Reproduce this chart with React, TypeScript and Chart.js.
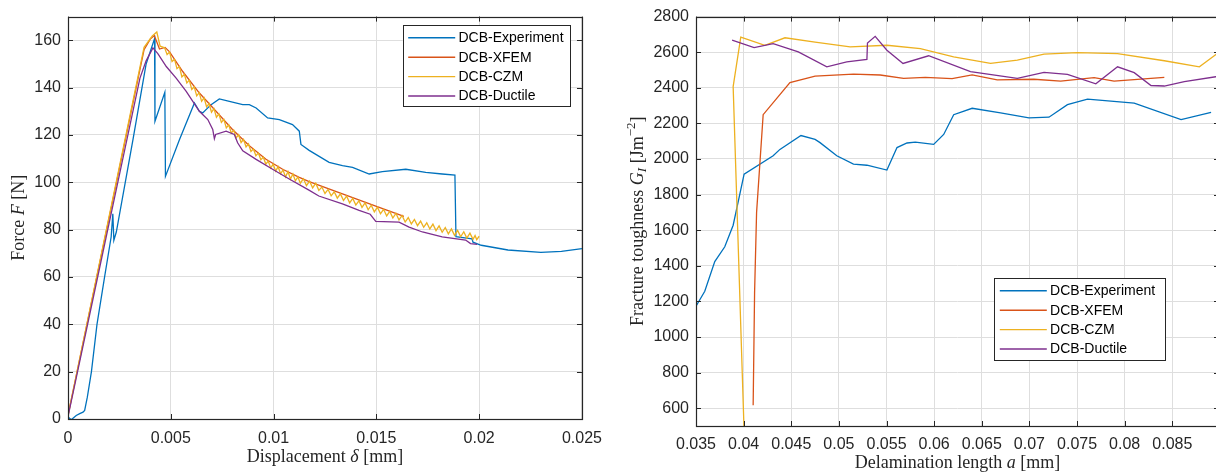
import React, { useEffect, useRef } from 'react';
import { Chart, registerables } from 'chart.js';

Chart.register(...registerables);

// ---------- series meta ----------
const SERIES_NAMES = ['DCB-Experiment', 'DCB-XFEM', 'DCB-CZM', 'DCB-Ductile'];
const SERIES_COLORS = ['#0072BD', '#D95319', '#EDB120', '#7E2F8E'];

// ---------- left chart: displacement [mm] vs force [N] ----------
const LEFT_X_TICKS = [0, 0.005, 0.01, 0.015, 0.02, 0.025];
const LEFT_Y_TICKS = [0, 20, 40, 60, 80, 100, 120, 140, 160];

const expDisp = [0, 0.00016, 0.0004, 0.00057, 0.00073, 0.00081, 0.00094, 0.00114, 0.00141, 0.00178, 0.0021, 0.00218, 0.00223, 0.00235, 0.00316, 0.0038, 0.00421, 0.00423, 0.00471, 0.00474, 0.00542, 0.00615, 0.00639, 0.00655, 0.00696, 0.00736, 0.00785, 0.0085, 0.00882, 0.00915, 0.00971, 0.01028, 0.01092, 0.01125, 0.01133, 0.01173, 0.0127, 0.01335, 0.01384, 0.01465, 0.01529, 0.01643, 0.0174, 0.0182, 0.01882, 0.01887, 0.0193, 0.01965, 0.0197, 0.0201, 0.0214, 0.023, 0.024, 0.025];
const expForce = [0.8, -0.3, 1.5, 2.3, 2.9, 3.6, 9.2, 20, 40, 60, 77, 86.7, 75.5, 79, 118, 150, 160.7, 125.8, 138, 102.5, 118, 133.5, 130, 129.3, 132.8, 135.2, 134.2, 132.8, 132.8, 131.4, 127.2, 126.5, 124.4, 121.6, 116, 113.5, 108.4, 107, 106.3, 103.5, 104.5, 105.5, 104.2, 103.5, 103, 77, 76.5, 76.1, 74.7, 73.4, 71.4, 70.4, 70.8, 72];

const xfemDisp = [0, 0.0037, 0.004, 0.0042, 0.00445, 0.00472, 0.00494, 0.00558, 0.00639, 0.0072, 0.008, 0.00882, 0.00963, 0.01044, 0.01125, 0.01173, 0.01335, 0.01497, 0.01634];
const xfemForce = [1.5, 156, 160.5, 162, 156.3, 157, 155.1, 146.8, 137.7, 130, 122.3, 115.4, 109.7, 105.5, 102.1, 100.3, 95.1, 89.9, 85.6];

const czmDisp = [0, 0.0037, 0.0041, 0.00432, 0.00448,
  0.0047, 0.00482, 0.00494, 0.00506, 0.00518, 0.0053, 0.00542, 0.00554, 0.00566, 0.00578,
  0.0059, 0.00602, 0.00614, 0.00626, 0.00638, 0.0065, 0.00662, 0.00674, 0.00686, 0.00698,
  0.0071, 0.00722, 0.00734, 0.00746, 0.00758, 0.0077, 0.00782, 0.00794, 0.00806, 0.00818,
  0.0083, 0.00842, 0.00854, 0.00866, 0.00878, 0.0089, 0.00902, 0.00914, 0.00926, 0.00938,
  0.0095, 0.00962, 0.00974, 0.00986, 0.00998, 0.0101, 0.01022, 0.01034, 0.01046, 0.01058,
  0.0107, 0.01082, 0.01094, 0.01106, 0.01118, 0.0113,
  0.01145, 0.0116, 0.01175, 0.0119, 0.01205, 0.0122, 0.01235, 0.0125, 0.01265, 0.0128,
  0.01295, 0.0131, 0.01325, 0.0134, 0.01355, 0.0137, 0.01385, 0.014, 0.01415, 0.0143,
  0.01445, 0.0146, 0.01475, 0.0149, 0.01505, 0.0152, 0.01535, 0.0155, 0.01565, 0.0158,
  0.01595, 0.0161, 0.01625, 0.0164, 0.01655, 0.0167, 0.01685, 0.017, 0.01715, 0.0173,
  0.01745, 0.0176, 0.01775, 0.0179, 0.01805, 0.0182, 0.01835, 0.0185, 0.01865, 0.0188,
  0.01895, 0.0191, 0.01925, 0.0194, 0.01955, 0.0197, 0.0198, 0.01988, 0.02];
const czmForce = [1.5, 157, 161.8, 163.5, 157.5,
  156.8, 154.0, 155.0, 151.0, 152.0, 148.0, 148.9, 144.5, 145.6, 142.0,
  143.2, 139.2, 140.3, 136.5, 137.9, 134.2, 135.7, 131.9, 133.2, 129.6,
  131.1, 127.5, 128.9, 125.3, 126.6, 123.0, 124.3, 120.8, 122.1, 118.8,
  120.1, 116.8, 118.1, 114.9, 116.2, 113.0, 114.1, 111.2, 112.4, 109.5,
  110.7, 107.7, 109.0, 106.0, 107.7, 104.7, 106.6, 103.6, 105.2, 102.2,
  104.5, 101.4, 103.5, 100.6, 102.3, 99.6,
  101.5, 98.6, 100.5, 97.6, 99.6, 96.6, 98.0, 95.3, 97.0, 94.3,
  96.0, 93.3, 95.1, 92.3, 94.2, 91.3, 93.2, 90.4, 92.2, 89.4,
  91.3, 88.4, 90.3, 87.5, 89.5, 86.7, 88.6, 85.8, 87.7, 84.9,
  86.9, 84.1, 86.0, 83.2, 85.1, 82.4, 84.3, 81.7, 83.6, 81.0,
  82.9, 80.3, 82.3, 79.6, 81.6, 78.9, 80.9, 78.2, 80.3, 77.6,
  79.7, 77.0, 79.1, 76.4, 78.5, 75.9, 77.5, 75.8, 77.2];

const ductDisp = [0, 0.0035, 0.0038, 0.00413, 0.00437, 0.00478, 0.00526, 0.00575, 0.00607, 0.00639, 0.0068, 0.00704, 0.00712, 0.00718, 0.00769, 0.00809, 0.00825, 0.0085, 0.00915, 0.00995, 0.01076, 0.0117, 0.0122, 0.01335, 0.01416, 0.0147, 0.01497, 0.0161, 0.01659, 0.01724, 0.0182, 0.01934, 0.01958, 0.0199];
const ductForce = [1, 144, 151.3, 156.8, 154.4, 148.9, 144, 138.4, 134.2, 130, 126.5, 122.3, 118.4, 120.2, 121.6, 120.2, 116.7, 113.3, 109.7, 105.5, 101.4, 96.8, 94.2, 90.9, 88.1, 86.5, 83.5, 83.2, 81.1, 79, 76.9, 75.6, 74.1, 73.8];

// ---------- right chart: delamination length [mm] vs fracture toughness ----------
const RIGHT_X_TICKS = [0.035, 0.04, 0.045, 0.05, 0.055, 0.06, 0.065, 0.07, 0.075, 0.08, 0.085];
const RIGHT_Y_TICKS = [600, 800, 1000, 1200, 1400, 1600, 1800, 2000, 2200, 2400, 2600, 2800];

const expLen = [0.035, 0.03592, 0.03697, 0.03802, 0.0389, 0.04005, 0.0431, 0.04381, 0.04602, 0.0475, 0.04802, 0.04978, 0.05153, 0.05294, 0.05504, 0.0561, 0.05715, 0.05802, 0.05995, 0.061, 0.06205, 0.06399, 0.06697, 0.06995, 0.07205, 0.07399, 0.0761, 0.081, 0.08592, 0.08907];
const expG = [1173, 1257, 1424, 1507, 1628, 1915, 2018, 2054, 2132, 2110, 2092, 2018, 1971, 1965, 1938, 2064, 2090, 2095, 2082, 2138, 2249, 2285, 2259, 2231, 2235, 2305, 2336, 2314, 2221, 2262];

const xfemLen = [0.041, 0.04115, 0.04136, 0.04205, 0.04486, 0.0475, 0.05153, 0.05434, 0.05679, 0.05907, 0.06188, 0.06399, 0.06662, 0.07047, 0.07328, 0.07679, 0.07889, 0.08416];
const xfemG = [617, 1250, 1700, 2249, 2429, 2466, 2477, 2472, 2453, 2459, 2452, 2472, 2444, 2448, 2438, 2457, 2438, 2459];

const czmLen = [0.04008, 0.0389, 0.0397, 0.04223, 0.04434, 0.0475, 0.05118, 0.05504, 0.05855, 0.06205, 0.06592, 0.06873, 0.07153, 0.07504, 0.07925, 0.08416, 0.08784, 0.0899];
const czmG = [420, 2407, 2685, 2639, 2681, 2657, 2630, 2639, 2620, 2574, 2537, 2555, 2589, 2598, 2592, 2552, 2518, 2600];

const ductLen = [0.03879, 0.0411, 0.0431, 0.04574, 0.04873, 0.05083, 0.05294, 0.053, 0.05381, 0.05504, 0.05673, 0.05942, 0.06381, 0.06873, 0.07153, 0.07399, 0.07697, 0.07925, 0.081, 0.08276, 0.08416, 0.08626, 0.0899];
const ductG = [2668, 2626, 2648, 2602, 2518, 2546, 2559, 2652, 2689, 2611, 2537, 2580, 2491, 2453, 2487, 2476, 2422, 2518, 2485, 2413, 2410, 2435, 2465];

// ---------- helpers ----------
type Run = { t: string; it?: boolean; sub?: boolean; sup?: boolean };

const TEXT_COLOR = '#262626';
const SANS = '"Liberation Sans", Arial, Helvetica, sans-serif';
const SERIF = '"Liberation Serif", "DejaVu Serif", serif';

function fmt(v: number | string) {
  const n = Number(v);
  return String(parseFloat(n.toFixed(5)));
}

function drawRuns(ctx: CanvasRenderingContext2D, runs: Run[], cx: number, cy: number, rotate: boolean, size: number) {
  ctx.save();
  ctx.translate(cx, cy);
  if (rotate) ctx.rotate(-Math.PI / 2);
  const fontFor = (r: Run) => `${r.it ? 'italic ' : ''}${r.sub || r.sup ? Math.round(size * 0.7) : size}px ${SERIF}`;
  let total = 0;
  const widths = runs.map((r) => {
    ctx.font = fontFor(r);
    const w = ctx.measureText(r.t).width;
    total += w;
    return w;
  });
  let x = -total / 2;
  ctx.textBaseline = 'middle';
  ctx.textAlign = 'left';
  ctx.fillStyle = TEXT_COLOR;
  runs.forEach((r, i) => {
    ctx.font = fontFor(r);
    const dy = r.sub ? size * 0.28 : r.sup ? -size * 0.35 : 0;
    ctx.fillText(r.t, x, dy);
    x += widths[i];
  });
  ctx.restore();
}

const framePlugin = {
  id: 'matlabFrame',
  afterDraw(chart: any, _args: any, opts: any) {
    const ctx: CanvasRenderingContext2D = chart.ctx;
    const { left, right, top, bottom } = chart.chartArea;
    const xs = chart.scales.x;
    const ys = chart.scales.y;
    ctx.save();
    // inward tick marks
    ctx.strokeStyle = TEXT_COLOR;
    ctx.lineWidth = 1;
    const tl = 5;
    ctx.beginPath();
    xs.ticks.forEach((t: any) => {
      const p = Math.round(xs.getPixelForValue(t.value)) + 0.5;
      ctx.moveTo(p, bottom);
      ctx.lineTo(p, bottom - tl);
      ctx.moveTo(p, top);
      ctx.lineTo(p, top + tl);
    });
    ys.ticks.forEach((t: any) => {
      const p = Math.round(ys.getPixelForValue(t.value)) + 0.5;
      ctx.moveTo(left, p);
      ctx.lineTo(left + tl, p);
      ctx.moveTo(right, p);
      ctx.lineTo(right - tl, p);
    });
    ctx.stroke();
    // box
    ctx.lineWidth = 1.2;
    ctx.strokeRect(Math.round(left) + 0.5, Math.round(top) + 0.5, Math.round(right - left), Math.round(bottom - top));

    // legend
    const lg = opts.legend;
    if (lg) {
      ctx.fillStyle = '#ffffff';
      ctx.fillRect(lg.x, lg.y, lg.w, lg.h);
      ctx.lineWidth = 1;
      ctx.strokeStyle = TEXT_COLOR;
      ctx.strokeRect(Math.round(lg.x) + 0.5, Math.round(lg.y) + 0.5, Math.round(lg.w), Math.round(lg.h));
      ctx.font = `14px ${SANS}`;
      ctx.textBaseline = 'middle';
      ctx.textAlign = 'left';
      chart.data.datasets.forEach((ds: any, i: number) => {
        const ry = lg.y + 12.5 + i * 19.4;
        ctx.strokeStyle = ds.borderColor;
        ctx.lineWidth = 1.4;
        ctx.beginPath();
        ctx.moveTo(lg.x + 5.5, ry);
        ctx.lineTo(lg.x + 52.5, ry);
        ctx.stroke();
        ctx.fillStyle = '#000000';
        ctx.fillText(ds.label, lg.x + 55.8, ry + 0.5);
      });
    }
    ctx.restore();

    // axis titles
    if (opts.xTitle) drawRuns(ctx, opts.xTitle, (left + right) / 2, opts.xTitleY, false, 18);
    if (opts.yTitle) drawRuns(ctx, opts.yTitle, opts.yTitleX, (top + bottom) / 2, true, 18);
  },
};

function makeDatasets(xsArr: number[][], ysArr: number[][]) {
  return xsArr.map((xa, s) => ({
    label: SERIES_NAMES[s],
    data: xa.map((x, i) => ({ x, y: ysArr[s][i] })),
    borderColor: SERIES_COLORS[s],
    backgroundColor: SERIES_COLORS[s],
    borderWidth: 1.3,
    pointRadius: 0,
    tension: 0,
    fill: false,
    order: 4 - s,
  }));
}

function axisCommon(tickList: number[]) {
  return {
    type: 'linear' as const,
    grid: { color: '#dedede', lineWidth: 1, drawTicks: false },
    border: { display: false },
    afterBuildTicks: (scale: any) => {
      scale.ticks = tickList.map((v) => ({ value: v }));
    },
  };
}

function buildConfig(kind: 'left' | 'right'): any {
  const isLeft = kind === 'left';
  const datasets = isLeft
    ? makeDatasets([expDisp, xfemDisp, czmDisp, ductDisp], [expForce, xfemForce, czmForce, ductForce])
    : makeDatasets([expLen, xfemLen, czmLen, ductLen], [expG, xfemG, czmG, ductG]);
  const tickFont = { family: SANS, size: 16 };
  return {
    type: 'line',
    data: { datasets },
    options: {
      responsive: false,
      animation: false,
      parsing: true,
      layout: {
        padding: isLeft ? { left: 0, top: 13, right: 29, bottom: 0 } : { left: 0, top: 13, right: 13, bottom: 0 },
      },
      scales: {
        x: {
          ...axisCommon(isLeft ? LEFT_X_TICKS : RIGHT_X_TICKS),
          min: isLeft ? 0 : 0.035,
          max: isLeft ? 0.025 : 0.0899,
          ticks: { color: TEXT_COLOR, font: tickFont, padding: isLeft ? 10 : 9, maxRotation: 0, autoSkip: false, callback: (v: any) => fmt(v) },
          afterFit: (s: any) => { s.height = isLeft ? 56 : 49; },
        },
        y: {
          ...axisCommon(isLeft ? LEFT_Y_TICKS : RIGHT_Y_TICKS),
          min: isLeft ? 0 : 500,
          max: isLeft ? 170 : 2800,
          ticks: { color: TEXT_COLOR, font: tickFont, padding: 7, autoSkip: false, callback: (v: any) => fmt(v) },
          afterFit: (s: any) => { s.width = isLeft ? 68 : 84; },
        },
      },
      plugins: {
        legend: { display: false },
        tooltip: { enabled: false },
        matlabFrame: isLeft
          ? {
              legend: { x: 402.7, y: 25.3, w: 167.3, h: 81.4 },
              xTitle: [{ t: 'Displacement ' }, { t: 'δ', it: true }, { t: ' [mm]' }],
              xTitleY: 457.5,
              yTitle: [{ t: 'Force ' }, { t: 'F', it: true }, { t: ' [N]' }],
              yTitleX: 19,
            }
          : {
              legend: { x: 382.3, y: 278.3, w: 170.7, h: 82.4 },
              xTitle: [{ t: 'Delamination length ' }, { t: 'a', it: true }, { t: ' [mm]' }],
              xTitleY: 463,
              yTitle: [
                { t: 'Fracture toughness ' },
                { t: 'G', it: true },
                { t: 'I', it: true, sub: true },
                { t: ' [Jm' },
                { t: '−2', sup: true },
                { t: ']' },
              ],
              yTitleX: 26,
            },
      },
    },
    plugins: [framePlugin],
  };
}

function ChartCanvas({ kind, left, width }: { kind: 'left' | 'right'; left: number; width: number }) {
  const ref = useRef<HTMLCanvasElement | null>(null);
  useEffect(() => {
    if (!ref.current) return;
    const chart = new Chart(ref.current, buildConfig(kind));
    return () => chart.destroy();
  }, [kind]);
  return (
    <canvas
      ref={ref}
      width={width}
      height={475}
      style={{ position: 'absolute', left, top: 0, width, height: 475, display: 'block' }}
    />
  );
}

export default function App() {
  return (
    <div
      style={{
        position: 'fixed',
        left: 0,
        top: 0,
        width: 1216,
        height: 475,
        overflow: 'hidden',
        background: '#ffffff',
      }}
    >
      <ChartCanvas kind="left" left={0} width={612} />
      <ChartCanvas kind="right" left={612} width={620} />
    </div>
  );
}
